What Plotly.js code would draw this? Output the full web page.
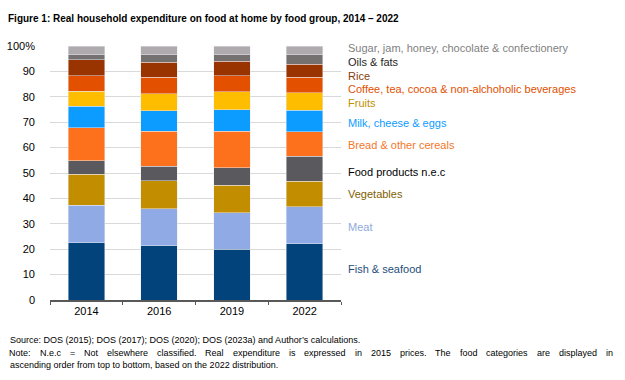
<!DOCTYPE html>
<html>
<head>
<meta charset="utf-8">
<script src="https://cdn.plot.ly/plotly-3.0.1.min.js"></script>
<style>html,body{margin:0;padding:0;background:#fff;}#chart{width:625px;height:380px;}</style>
</head>
<body>
<div id="chart"></div>
<script>
// ---- data (percent shares) ----
const years = ['2014', '2016', '2019', '2022'];
const categories = [
  'Fish & seafood', 'Meat', 'Vegetables', 'Food products n.e.c',
  'Bread & other cereals', 'Milk, cheese & eggs', 'Fruits',
  'Coffee, tea, cocoa & non-alchoholic beverages', 'Rice', 'Oils & fats',
  'Sugar, jam, honey, chocolate & confectionery'
];
const fish    = [22.6, 21.3, 20.0, 22.1];
const meat    = [14.7, 14.6, 14.4, 14.6];
const veg     = [12.2, 11.1, 10.7, 10.0];
const nec     = [5.4, 5.7, 6.9, 9.9];
const bread   = [13.0, 13.8, 14.4, 9.6];
const milk    = [8.3, 8.1, 8.5, 8.6];
const fruits  = [5.9, 6.7, 7.0, 6.7];
const coffee  = [6.2, 6.4, 6.4, 6.2];
const rice    = [6.2, 6.0, 5.7, 5.2];
const oils    = [2.2, 3.0, 2.7, 3.8];
const sugar   = [3.3, 3.3, 3.3, 3.3];
const series = [fish, meat, veg, nec, bread, milk, fruits, coffee, rice, oils, sugar];
const yTickVals = [0, 10, 20, 30, 40, 50, 60, 70, 80, 90, 100];
const yTickText = ['0', '10', '20', '30', '40', '50', '60', '70', '80', '90', '100%'];

// ---- styles ----
const barColors = ['#01437a', '#8faae4', '#c38d00', '#5a5a5e', '#fd711d', '#0c9cff',
                   '#ffbd00', '#e25000', '#993300', '#767171', '#aeaaad'];
const labelColors = ['#1f4e79', '#8faadc', '#7f6000', '#000000', '#f4772b', '#0c9cff',
                     '#bf9000', '#e25000', '#843c0c', '#262626', '#7f7f7f'];
const labelYpx = [269, 227, 194, 172, 145, 123, 103, 89, 76, 62, 48];

const W = 625, H = 380;
const M = {l: 50, r: 284, t: 46, b: 80};
const plotW = W - M.l - M.r, plotH = H - M.t - M.b;
const px2x = p => (p - M.l) / plotW;
const py2y = p => (H - M.b - p) / plotH;

const traces = series.map((vals, i) => ({
  type: 'bar',
  x: years,
  y: vals,
  name: categories[i],
  marker: {color: barColors[i], line: {color: 'rgba(235,235,240,0.8)', width: 0.6}},
  hoverinfo: 'x+y+name'
}));

const annotations = categories.map((c, i) => ({
  text: c, xref: 'paper', yref: 'paper',
  x: px2x(346), y: py2y(labelYpx[i]), xanchor: 'left', yanchor: 'middle',
  showarrow: false, font: {family: 'Liberation Sans, Arial, sans-serif', size: 11, color: labelColors[i]}
}));

const NOTE_FAMILY = 'Liberation Sans, Arial, sans-serif';
const NOTE_SIZE = 9;
const noteFont = {family: NOTE_FAMILY, size: NOTE_SIZE, color: '#000'};
const noteLines = [
  ['Source: DOS (2015); DOS (2017); DOS (2020); DOS (2023a) and Author’s calculations.', 340, false],
  ['Note: N.e.c = Not elsewhere classified. Real expenditure is expressed in 2015 prices. The food categories are displayed in', 353, true],
  ['ascending order from top to bottom, based on the 2022 distribution.', 365, false]
];
const ctx = document.createElement('canvas').getContext('2d');
ctx.font = NOTE_SIZE + 'px "Liberation Sans", Arial, sans-serif';
noteLines.forEach(([t, y, justify]) => {
  if (!justify) {
    annotations.push({text: t, xref: 'paper', yref: 'paper', x: px2x(8), y: py2y(y),
      xanchor: 'left', yanchor: 'middle', showarrow: false, font: noteFont});
    return;
  }
  // justified line: spread words between x=8 and x=612
  const words = t.split(' ');
  const widths = words.map(w => ctx.measureText(w).width);
  const total = widths.reduce((a, b) => a + b, 0);
  const gap = (612 - 8 - total) / (words.length - 1);
  let xp = 8;
  words.forEach((w, k) => {
    annotations.push({text: w, xref: 'paper', yref: 'paper', x: px2x(xp), y: py2y(y),
      xanchor: 'left', yanchor: 'middle', showarrow: false, font: noteFont,
      borderpad: 0});
    xp += widths[k] + gap;
  });
});

const layout = {
  width: W, height: H,
  margin: M,
  paper_bgcolor: '#fff', plot_bgcolor: '#fff',
  barmode: 'stack', bargap: 0.5,
  showlegend: false,
  title: {
    text: '<b>Figure 1: Real household expenditure on food at home by food group, 2014 – 2022</b>',
    x: 8 / W, xref: 'container', xanchor: 'left',
    y: 1 - 18 / H, yref: 'container', yanchor: 'middle',
    font: {family: 'Liberation Sans, Arial, sans-serif', size: 10, color: '#000'}
  },
  font: {family: 'Liberation Sans, Arial, sans-serif', size: 11, color: '#000'},
  xaxis: {
    type: 'category', showgrid: false, zeroline: false,
    showline: true, linecolor: '#595959', linewidth: 1.5,
    ticks: 'outside', tickson: 'boundaries', ticklen: 3, tickcolor: '#595959', tickwidth: 1,
    tickfont: {size: 11, color: '#000'}
  },
  yaxis: {
    range: [0, 100], tickvals: yTickVals, ticktext: yTickText,
    showgrid: true, gridcolor: '#d9d9d9', gridwidth: 1, zeroline: false,
    showline: false, ticks: '', ticklabelstandoff: 14,
    tickfont: {size: 11, color: '#000'}, fixedrange: true
  },
  annotations: annotations
};

Plotly.newPlot('chart', traces, layout, {displayModeBar: false, staticPlot: true});
</script>
</body>
</html>
